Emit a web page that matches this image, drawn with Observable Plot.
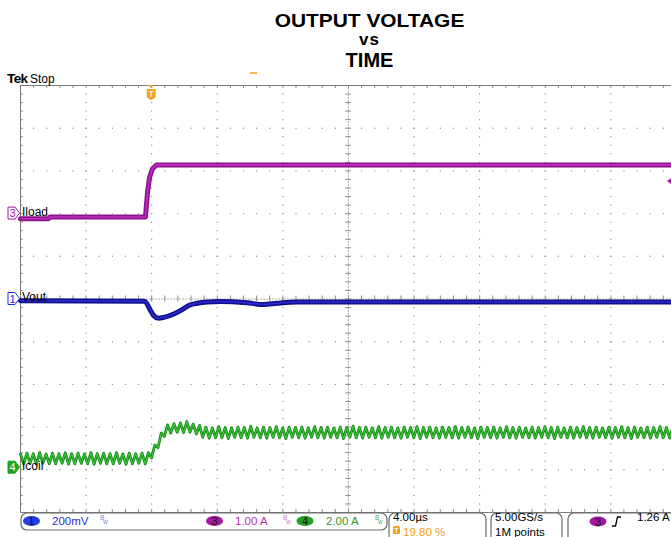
<!DOCTYPE html>
<html><head><meta charset="utf-8">
<script src="https://cdn.jsdelivr.net/npm/d3@7"></script>
<script src="https://cdn.jsdelivr.net/npm/@observablehq/plot@0.6"></script>
<style>
body{margin:0;background:#fff;width:671px;height:537px;overflow:hidden;font-family:"Liberation Sans",Arial,sans-serif}
#title{position:relative;height:72px;width:671px}
#title div{position:absolute;left:34px;width:671px;text-align:center;font-weight:bold;color:#000;white-space:nowrap}
#chart svg{display:block}
</style></head><body>
<div id="title">
 <div style="top:11px;font-size:19px;line-height:19px;transform:scaleX(1.1)">OUTPUT VOLTAGE</div>
 <div style="top:31px;font-size:17px;line-height:17px;letter-spacing:1px">vs</div>
 <div style="top:50px;font-size:20px;line-height:20px">TIME</div>
</div>
<div id="chart"></div>
<script>
// time axis: µs relative to trigger, 4 µs/div; vertical: screen divisions
const xTicks = [-8, -4, 0, 4, 8, 12, 16, 20, 24, 28, 32];
const yTicks = [-5, -4, -3, -2, -1, 0, 1, 2, 3, 4, 5];

// CH3 Iload (divisions)
const iloadT = [-8, -6.3, -6.2, -0.38, -0.26, -0.13, 0.05, 0.29, 31.7];
const iloadV = [1.88, 1.88, 1.92, 1.92, 2.47, 2.85, 3.05, 3.14, 3.14];

// CH1 Vout (divisions)
const voutT = [-8, -0.44, -0.07, 0.13, 0.43, 0.74, 1.35, 1.86, 2.26, 2.77, 3.38, 4.2, 5.82, 6.84, 7.65, 8.87, 31.7];
const voutV = [-0.04, -0.05, -0.27, -0.39, -0.45, -0.43, -0.35, -0.25, -0.15, -0.10, -0.07, -0.06, -0.09, -0.13, -0.10, -0.07, -0.07];

// CH4 Icoil (divisions), peaks/troughs every half ripple period
const icoilStart = -8, icoilStep = 0.195;
const icoilV = [
-3.63,-3.86,-3.61,-3.85,-3.62,-3.87,-3.60,-3.85,-3.63,-3.86,
-3.61,-3.86,-3.62,-3.85,-3.60,-3.87,-3.62,-3.86,-3.61,-3.85,
-3.63,-3.86,-3.60,-3.87,-3.62,-3.85,-3.61,-3.86,-3.62,-3.86,
-3.60,-3.85,-3.63,-3.87,-3.61,-3.86,-3.62,-3.85,-3.61,
-3.86,-3.60,-3.72,-3.42,-3.48,-3.14,-3.22,
-2.95,-3.14,-2.92,-3.12,-2.90,-3.13,-2.87,-3.12,-2.93,-3.16,-2.96,
-3.24,-3.00,-3.26,-3.02,-3.25,-2.99,-3.25,-3.01,-3.27,-3.02,
-3.24,-3.00,-3.25,-3.01,-3.26,-2.98,-3.24,-3.02,-3.25,-3.00,
-3.26,-3.01,-3.24,-2.99,-3.25,-3.02,-3.27,-3.00,-3.24,-3.01,
-3.25,-3.00,-3.26,-3.02,-3.24,-2.99,-3.25,-3.01,-3.26,-3.00,
-3.24,-3.02,-3.25,-3.00,-3.27,-3.01,-3.24,-2.98,-3.25,-3.01,
-3.26,-3.00,-3.24,-3.02,-3.25,-2.99,-3.26,-3.01,-3.24,-3.00,
-3.25,-3.02,-3.26,-3.00,-3.24,-3.01,-3.25,-2.99,-3.27,-3.01,
-3.24,-3.00,-3.25,-3.02,-3.26,-3.00,-3.24,-3.01,-3.25,-2.99,
-3.26,-3.01,-3.24,-3.00,-3.25,-3.02,-3.27,-3.00,-3.24,-3.01,
-3.25,-3.00,-3.26,-3.02,-3.24,-2.99,-3.25,-3.01,-3.26,-3.00,
-3.24,-3.02,-3.25,-3.00,-3.26,-3.01,-3.24,-2.99,-3.25,-3.01,
-3.27,-3.00,-3.24,-3.02,-3.25,-3.00,-3.26,-3.01,-3.24,-2.99,
-3.25,-3.01,-3.26,-3.00,-3.24,-3.02,-3.25,-3.00,-3.26,-3.01,
-3.24,-2.99,-3.25,-3.01,-3.27,-3.00,-3.24,-3.02,-3.25,-3.00,
-3.26,-3.01,-3.24,-2.99,-3.25,-3.01,-3.26,-3.00
];

// channel labels
const chNums = ["3", "1", "4"];
const chNames = ["Iload", "Vout", "Icoil"];
const chLevels = [2.0, 0, -3.95];
const triggerT = 0;
const triggerLevel = 2.75;

// status bar texts
const statusScale = ["200mV", "1.00 A", "2.00 A"];
const timeBase = "4.00µs";
const trigPos = "19.80 %";
const sampleRate = "5.00GS/s";
const recordLen = "1M points";
const trigText = "1.26 A";

const xMin = -8, xMax = 31.7;
const iload = iloadT.map((t, i) => ({t, v: iloadV[i]}));
const vout = voutT.map((t, i) => ({t, v: voutV[i]}));
const icoil = icoilV.map((v, i) => ({t: icoilStart + i * icoilStep, v}));

const minorX = d3.range(0, 50).map(i => -8 + i * 0.8).filter(t => t <= xMax);
const minorY = d3.range(0, 51).map(i => -5 + i * 0.2);
const gridV = xTicks.filter(t => t !== -8 && t !== 12 && t < xMax);
const gridH = yTicks.filter(v => Math.abs(v) !== 5 && v !== 0);
const dots = [];
for (const t of gridV) for (const v of minorY) dots.push({t, v});
for (const v of gridH) for (const t of minorX) dots.push({t, v});

const tx = 0.17, ty = 0.07; // tick half-lengths in data units
const grid = "#8a8a8a";

const plot = Plot.plot({
  width: 671, height: 465,
  marginLeft: 20, marginRight: 0, marginTop: 13, marginBottom: 25,
  x: {domain: [xMin, xMax], axis: null},
  y: {domain: [-5, 5], axis: null},
  style: {background: "white", fontFamily: "Liberation Sans, Arial, sans-serif"},
  marks: [
    Plot.dot(dots, {x: "t", y: "v", r: 0.7, fill: "#909090", stroke: null}),
    Plot.ruleX([12], {stroke: "#b0b0b0", strokeDasharray: "2,1"}),
    Plot.ruleY([0], {stroke: "#b0b0b0", strokeDasharray: "2,1"}),
    Plot.ruleY(minorY, {y: d => d, x1: 12 - tx, x2: 12 + tx, stroke: grid}),
    Plot.ruleX(minorX, {x: d => d, y1: -ty, y2: ty, stroke: grid}),
    Plot.ruleX(minorX, {x: d => d, y1: 5, y2: 5 - ty, stroke: grid}),
    Plot.ruleX(minorX, {x: d => d, y1: -5, y2: -5 + ty, stroke: grid}),
    Plot.ruleY(minorY, {y: d => d, x1: -8, x2: -8 + tx, stroke: grid}),
    Plot.ruleY([-5, 5], {stroke: "#7a7a7a"}),
    Plot.ruleX([-8], {stroke: "#7a7a7a"}),
    Plot.line(icoil, {x: "t", y: "v", stroke: "#178a17", strokeWidth: 2.8}),
    Plot.line(icoil, {x: "t", y: "v", stroke: "#44cc44", strokeWidth: 1}),
    Plot.line(iload, {x: "t", y: "v", stroke: "#8c128e", strokeWidth: 5}),
    Plot.line(iload, {x: "t", y: "v", stroke: "#c02ec0", strokeWidth: 1.6}),
    Plot.line(vout, {x: "t", y: "v", stroke: "#10108a", strokeWidth: 5, curve: "monotone-x"}),
    Plot.line(vout, {x: "t", y: "v", stroke: "#2a2ad2", strokeWidth: 1.6, curve: "monotone-x"})
  ]
});
document.getElementById("chart").appendChild(plot);

const sx = plot.scale("x"), sy = plot.scale("y");
const svg = d3.select(plot).append("g").attr("text-anchor", "start");
const off = 72; // page y of the svg top
const chColors = ["#a8159f", "#1e2ee0", "#1ea31e"];
const chText = ["#b030b0", "#2a2ad8", "#2a9a2a"];

// Tek Stop
const tek = svg.append("text").attr("x", 7).attr("y", 11).attr("font-size", 13.5).attr("fill", "#000");
tek.append("tspan").attr("font-weight", "bold").attr("letter-spacing", -0.6).text("Tek");
tek.append("tspan").attr("dx", 2.5).attr("font-size", 12).text("Stop");

// record indicator
svg.append("line").attr("x1", 250).attr("x2", 257).attr("y1", 1).attr("y2", 1).attr("stroke", "#f5a623").attr("stroke-width", 1.5);

// trigger position marker
{
  const x = sx.apply(triggerT), y = sy.apply(5);
  svg.append("path").attr("d", `M${x - 3},${y} L${x + 3},${y} L${x},${y + 3} Z`).attr("fill", "#f5a020");
  svg.append("path").attr("d", `M${x - 4.5},${y + 4} L${x + 4.5},${y + 4} L${x + 4.5},${y + 11} Q${x + 4.5},${y + 13} ${x},${y + 15} Q${x - 4.5},${y + 13} ${x - 4.5},${y + 11} Z`).attr("fill", "#f5a020");
  svg.append("text").attr("x", x).attr("y", y + 12).attr("text-anchor", "middle").attr("font-size", 8.5).attr("font-weight", "bold").attr("fill", "#fff6d8").text("T");
}
// trigger level arrow (CH3)
{
  const y = sy.apply(triggerLevel);
  svg.append("path").attr("d", `M667,${y} L672,${y - 3.5} L672,${y + 3.5} Z`).attr("fill", chColors[0]);
}

// channel markers + names
chNums.forEach((n, i) => {
  const y = sy.apply(chLevels[i]);
  const col = chColors[i];
  const filled = n === "4";
  svg.append("path").attr("d", `M8,${y - 6} L15,${y - 6} L19.5,${y} L15,${y + 6} L8,${y + 6} Z`)
    .attr("fill", filled ? col : "#fff").attr("stroke", col).attr("stroke-width", 1);
  svg.append("text").attr("x", 12.5).attr("y", y + 4).attr("text-anchor", "middle").attr("font-size", 11)
    .attr("fill", filled ? "#fff" : col).text(n);
  svg.append("text").attr("x", 22).attr("y", y + 2.5).attr("font-size", 12).attr("fill", "#000").text(chNames[i]);
});

// status bar
const sb = svg.append("g").attr("font-size", 11.5);
function box(x1, x2, y1, y2) {
  sb.append("rect").attr("x", x1).attr("y", y1).attr("width", x2 - x1).attr("height", y2 - y1)
    .attr("rx", 6).attr("fill", "#fff").attr("stroke", "#6a6a6a").attr("stroke-width", 1.2);
}
function chip(cx, cy, col, n) {
  sb.append("ellipse").attr("cx", cx).attr("cy", cy).attr("rx", 8.5).attr("ry", 5).attr("fill", col);
  sb.append("text").attr("x", cx).attr("y", cy + 4).attr("text-anchor", "middle").attr("font-size", 11).attr("fill", "#111").text(n);
}
function bw(x, y, col) {
  sb.append("text").attr("x", x).attr("y", y - 1).attr("font-size", 6.5).attr("fill", col).text("B");
  sb.append("text").attr("x", x + 3).attr("y", y + 3).attr("font-size", 6.5).attr("fill", col).text("w");
}
const y1 = 513 - off, yb = 524.5 - off;
box(21, 387, y1, 530 - off);
chip(31.5, 521 - off, "#1e3ee8", "1");
sb.append("text").attr("x", 52).attr("y", yb).attr("fill", chText[1]).text(statusScale[0]);
bw(100, 521 - off, "#6a8ae8");
chip(214.5, 521 - off, chColors[0], "3");
sb.append("text").attr("x", 235).attr("y", yb).attr("fill", chText[0]).text(statusScale[1]);
bw(283, 521 - off, "#d080d0");
chip(305, 521 - off, chColors[2], "4");
sb.append("text").attr("x", 326).attr("y", yb).attr("fill", chText[2]).text(statusScale[2]);
bw(375, 521 - off, "#50b050");

box(389, 486, y1, 545 - off);
sb.append("text").attr("x", 393).attr("y", 521 - off).attr("fill", "#000").text(timeBase);
sb.append("rect").attr("x", 393).attr("y", 526 - off).attr("width", 7).attr("height", 8).attr("rx", 1.5).attr("fill", "#f0a010");
sb.append("text").attr("x", 396.5).attr("y", 533 - off).attr("text-anchor", "middle").attr("font-size", 7.5).attr("font-weight", "bold").attr("fill", "#fff").text("T");
sb.append("text").attr("x", 403).attr("y", 535.5 - off).attr("fill", "#f0a010").text(trigPos);

box(491, 562, y1, 545 - off);
sb.append("text").attr("x", 495).attr("y", 521 - off).attr("fill", "#000").text(sampleRate);
sb.append("text").attr("x", 495).attr("y", 535.5 - off).attr("fill", "#000").text(recordLen);

box(568, 700, y1, 545 - off);
chip(598, 521.5 - off, chColors[0], "3");
sb.append("path").attr("d", `M612,${526 - off} L615.5,${526 - off} L617.5,${517 - off} L621,${517 - off}`).attr("fill", "none").attr("stroke", "#000").attr("stroke-width", 1.3);
sb.append("text").attr("x", 637).attr("y", 521 - off).attr("fill", "#000").text(trigText);
</script>
</body></html>
